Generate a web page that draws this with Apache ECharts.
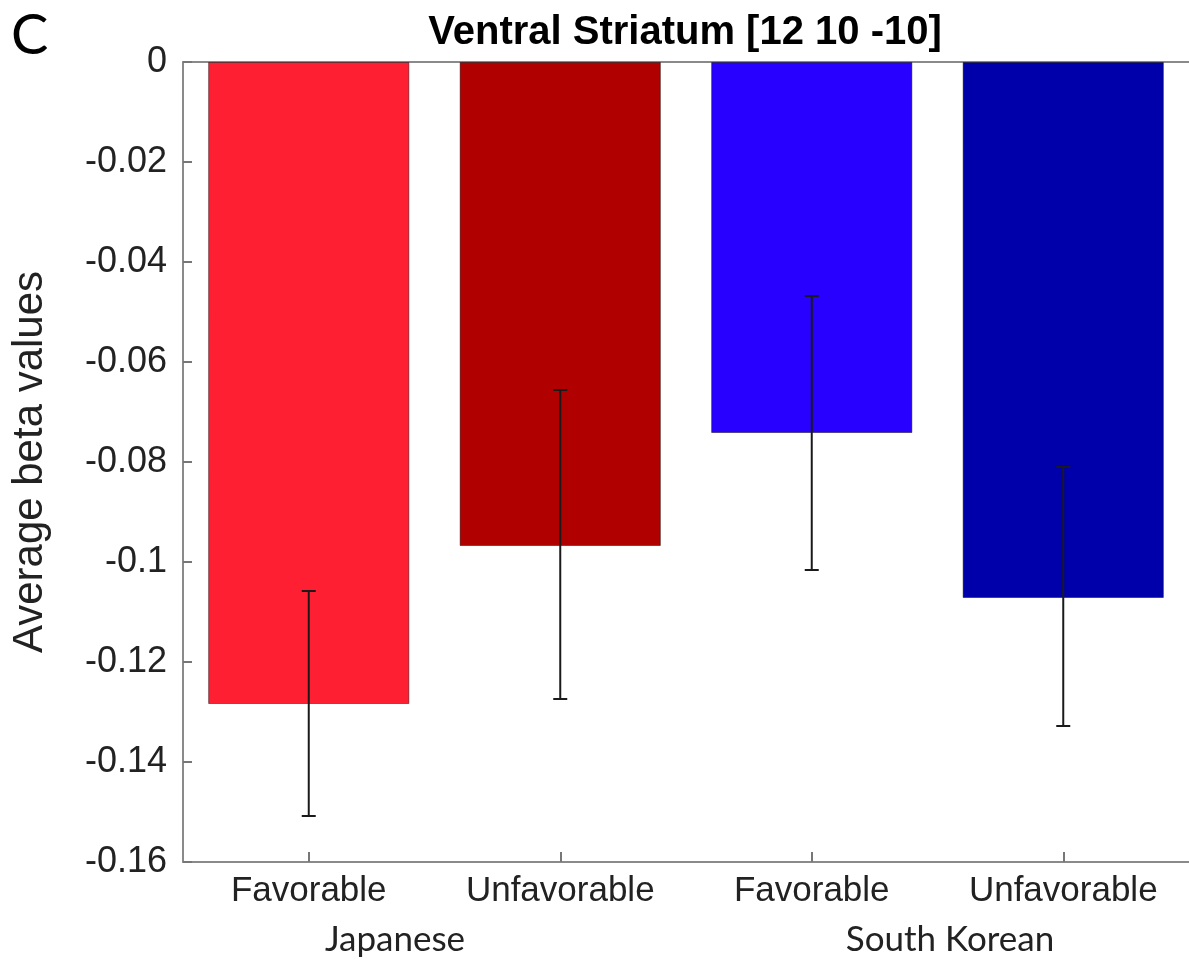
<!DOCTYPE html>
<html>
<head>
<meta charset="utf-8">
<script src="https://cdn.jsdelivr.net/npm/echarts@6/dist/echarts.min.js"></script>
<style>html,body{margin:0;padding:0;background:#fff}#c{width:1189px;height:966px}</style>
</head>
<body>
<div id="c"></div>
<script>
const categories = ['Favorable', 'Unfavorable', 'Favorable', 'Unfavorable'];
const groups = ['Japanese', 'South Korean'];
const means = [-0.1284, -0.0968, -0.0742, -0.1072];
const errUpper = [-0.1058, -0.0656, -0.0468, -0.0810];
const errLower = [-0.1508, -0.1274, -0.1016, -0.1328];
const barColors = ['#FF1F33', '#B00000', '#2800FF', '#0000AA'];

const chart = echarts.init(document.getElementById('c'), null, {renderer: 'canvas'});
const axisGray = '#8a8a8a';
const option = {
  animation: false,
  backgroundColor: '#fff',
  title: {
    text: 'Ventral Striatum [12 10 -10]',
    left: 680, top: 8, textAlign: 'center',
    textStyle: {fontFamily: 'Liberation Sans', fontWeight: 'bold', fontSize: 40, color: '#000'}
  },
  graphic: [
    {type: 'text', left: 11, top: 8, style: {text: 'C', font: '56px Lato', fill: '#000'}},
    {type: 'text', x: 395, y: 940, style: {text: groups[0], font: '35px Lato', fill: '#222', textAlign: 'center', textVerticalAlign: 'middle'}},
    {type: 'text', x: 950, y: 940, style: {text: groups[1], font: '35px Lato', fill: '#222', textAlign: 'center', textVerticalAlign: 'middle'}}
  ],
  grid: {left: 183, top: 62, width: 1018, height: 800, containLabel: false},
  xAxis: [{
    type: 'category', data: categories, position: 'bottom',
    axisLine: {onZero: false, lineStyle: {color: axisGray, width: 2}},
    axisTick: {show: true, inside: true, length: 10, alignWithLabel: true, lineStyle: {color: '#777', width: 2}},
    axisLabel: {fontFamily: 'Liberation Sans', fontSize: 35, color: '#222', margin: 12}
  }, {
    type: 'category', data: categories, position: 'top',
    axisLine: {onZero: false, lineStyle: {color: axisGray, width: 2}},
    axisTick: {show: false}, axisLabel: {show: false}
  }],
  yAxis: {
    type: 'value', min: -0.16, max: 0, interval: 0.02,
    name: 'Average beta values', nameLocation: 'middle', nameGap: 132,
    nameTextStyle: {fontFamily: 'Liberation Sans', fontSize: 42, color: '#222'},
    axisLine: {show: true, lineStyle: {color: axisGray, width: 2}},
    axisTick: {show: true, inside: true, length: 9, lineStyle: {color: '#777', width: 2}},
    splitLine: {show: false},
    axisLabel: {fontFamily: 'Liberation Sans', fontSize: 36, color: '#222', margin: 16,
      formatter: v => { const r = Math.round(v * 100) / 100; return r === 0 ? '0' : String(r); }}
  },
  series: [{
    type: 'bar',
    data: means.map((v, i) => ({value: v, itemStyle: {color: barColors[i]}})),
    barWidth: '80%',
    itemStyle: {borderColor: 'rgba(0,0,0,0.45)', borderWidth: 1}
  }, {
    type: 'custom',
    data: means.map((v, i) => [i, errUpper[i], errLower[i]]),
    z: 10,
    renderItem: (params, api) => {
      const x = api.value(0);
      const top = api.coord([x, api.value(1)]);
      const bot = api.coord([x, api.value(2)]);
      const cw = 7;
      const st = {stroke: '#1a1a1a', lineWidth: 2};
      return {type: 'group', children: [
        {type: 'line', shape: {x1: top[0], y1: top[1], x2: bot[0], y2: bot[1]}, style: st},
        {type: 'line', shape: {x1: top[0] - cw, y1: top[1], x2: top[0] + cw, y2: top[1]}, style: st},
        {type: 'line', shape: {x1: bot[0] - cw, y1: bot[1], x2: bot[0] + cw, y2: bot[1]}, style: st}
      ]};
    }
  }]
};
chart.setOption(option);
</script>
</body>
</html>
